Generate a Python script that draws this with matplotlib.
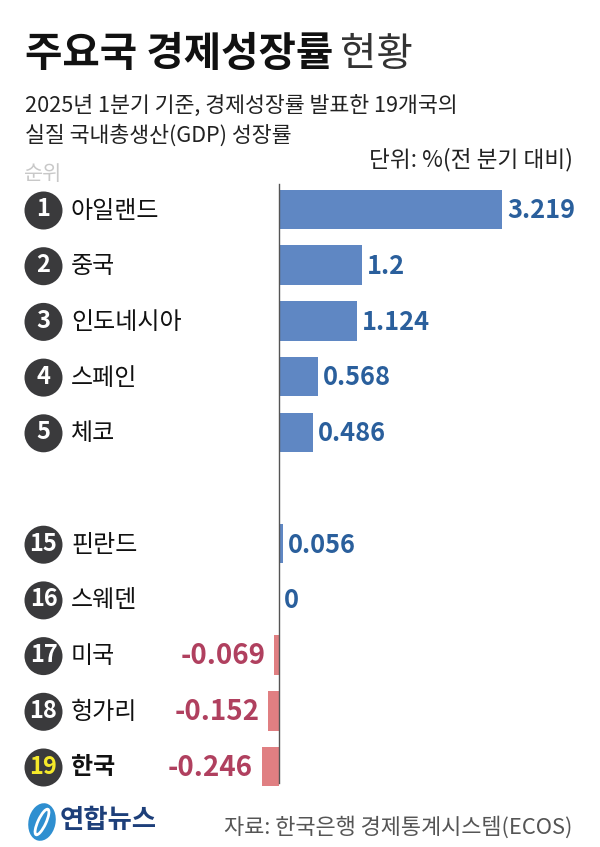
import matplotlib
matplotlib.use("Agg")
import matplotlib.pyplot as plt
from matplotlib.patches import Circle, Ellipse

plt.rcParams['font.family'] = ['Noto Sans CJK KR', 'DejaVu Sans']

ranks = [1, 2, 3, 4, 5, 15, 16, 17, 18, 19]
countries = ["아일랜드", "중국", "인도네시아", "스페인", "체코", "핀란드", "스웨덴", "미국", "헝가리", "한국"]
values = [3.219, 1.2, 1.124, 0.568, 0.486, 0.056, 0, -0.069, -0.152, -0.246]
value_labels = ["3.219", "1.2", "1.124", "0.568", "0.486", "0.056", "0", "-0.069", "-0.152", "-0.246"]
row_slots = [0, 1, 2, 3, 4, 6, 7, 8, 9, 10]

BLUE_BAR = "#5f87c3"
BLUE_TEXT = "#2a5f9c"
RED_BAR = "#e07f82"
RED_TEXT = "#b0405f"
DARK = "#3a3a3c"

W, H = 600, 847
fig = plt.figure(figsize=(W / 100, H / 100), dpi=100, facecolor="white")

# 막대용 축: x=0 이 279px, 1단위 69.3px / 행 간격 55.7px
PX_PER_UNIT = 69.3
ROW_PX = 55.7
ax = fig.add_axes([0, 0, 1, 1])
ax.set_xlim(-279 / PX_PER_UNIT, (W - 279) / PX_PER_UNIT)
ax.set_ylim((H - 209.5) / ROW_PX, -209.5 / ROW_PX)
ax.axis("off")

bar_colors = [BLUE_BAR if v >= 0 else RED_BAR for v in values]
ax.barh(row_slots, values, height=0.71, color=bar_colors, linewidth=0)
ax.plot([0, 0], [-0.45, 10.3], color="#555555", lw=1)

# 글자, 원 등 배치용 픽셀 좌표 축
px = fig.add_axes([0, 0, 1, 1], facecolor="none")
px.set_xlim(0, W)
px.set_ylim(H, 0)
px.axis("off")

px.text(25, 55, "주요국 경제성장률", fontsize=29.3, fontweight="bold", color="#111111", va="center")
px.text(340, 55, "현황", fontsize=28.5, fontweight="light", color="#333333", va="center")
px.text(25, 106, "2025년 1분기 기준, 경제성장률 발표한 19개국의", fontsize=15.6, fontweight="light", color="#222222", va="center")
px.text(25, 136, "실질 국내총생산(GDP) 성장률", fontsize=15.6, fontweight="light", color="#222222", va="center")
px.text(573, 160, "단위: %(전 분기 대비)", fontsize=16.3, fontweight="light", color="#222222", va="center", ha="right")
px.text(24, 174, "순위", fontsize=15, fontweight="light", color="#c8c8c8", va="center")

for rank, name, val, label, slot in zip(ranks, countries, values, value_labels, row_slots):
    y = 209.5 + slot * ROW_PX
    is_korea = name == "한국"
    px.add_patch(Circle((43.5, y + 1), 19, color=DARK, lw=0))
    px.text(43.5, y, str(rank), fontsize=17, fontweight="bold", va="center", ha="center",
            color="#f5e92a" if is_korea else "white")
    px.text(71, y + 1, name, fontsize=17.3, fontweight="bold" if is_korea else "regular",
            color="#111111", va="center")
    if val >= 0:
        ax.annotate(label, (val, slot), xytext=(3.5, -1), textcoords="offset points", fontsize=18.3,
                    fontweight="bold", color=BLUE_TEXT, va="center", ha="left")
    else:
        ax.annotate(label, (val, slot), xytext=(-6.5, -1), textcoords="offset points", fontsize=20,
                    fontweight="bold", color=RED_TEXT, va="center", ha="right")

# 연합뉴스 로고
px.add_patch(Ellipse((42, 822), 27, 38, angle=12, color="#2f8fd0", lw=0))
px.add_patch(Ellipse((42, 822), 8, 28, angle=25, fill=False, ec="white", lw=2))
px.text(60, 821, "연합뉴스", fontsize=19, fontweight="black", color="#1d3f7a", va="center")
px.text(572, 827, "자료: 한국은행 경제통계시스템(ECOS)", fontsize=15.8, fontweight="light", color="#555555", va="center", ha="right")

fig.savefig("out.png", dpi=100)
